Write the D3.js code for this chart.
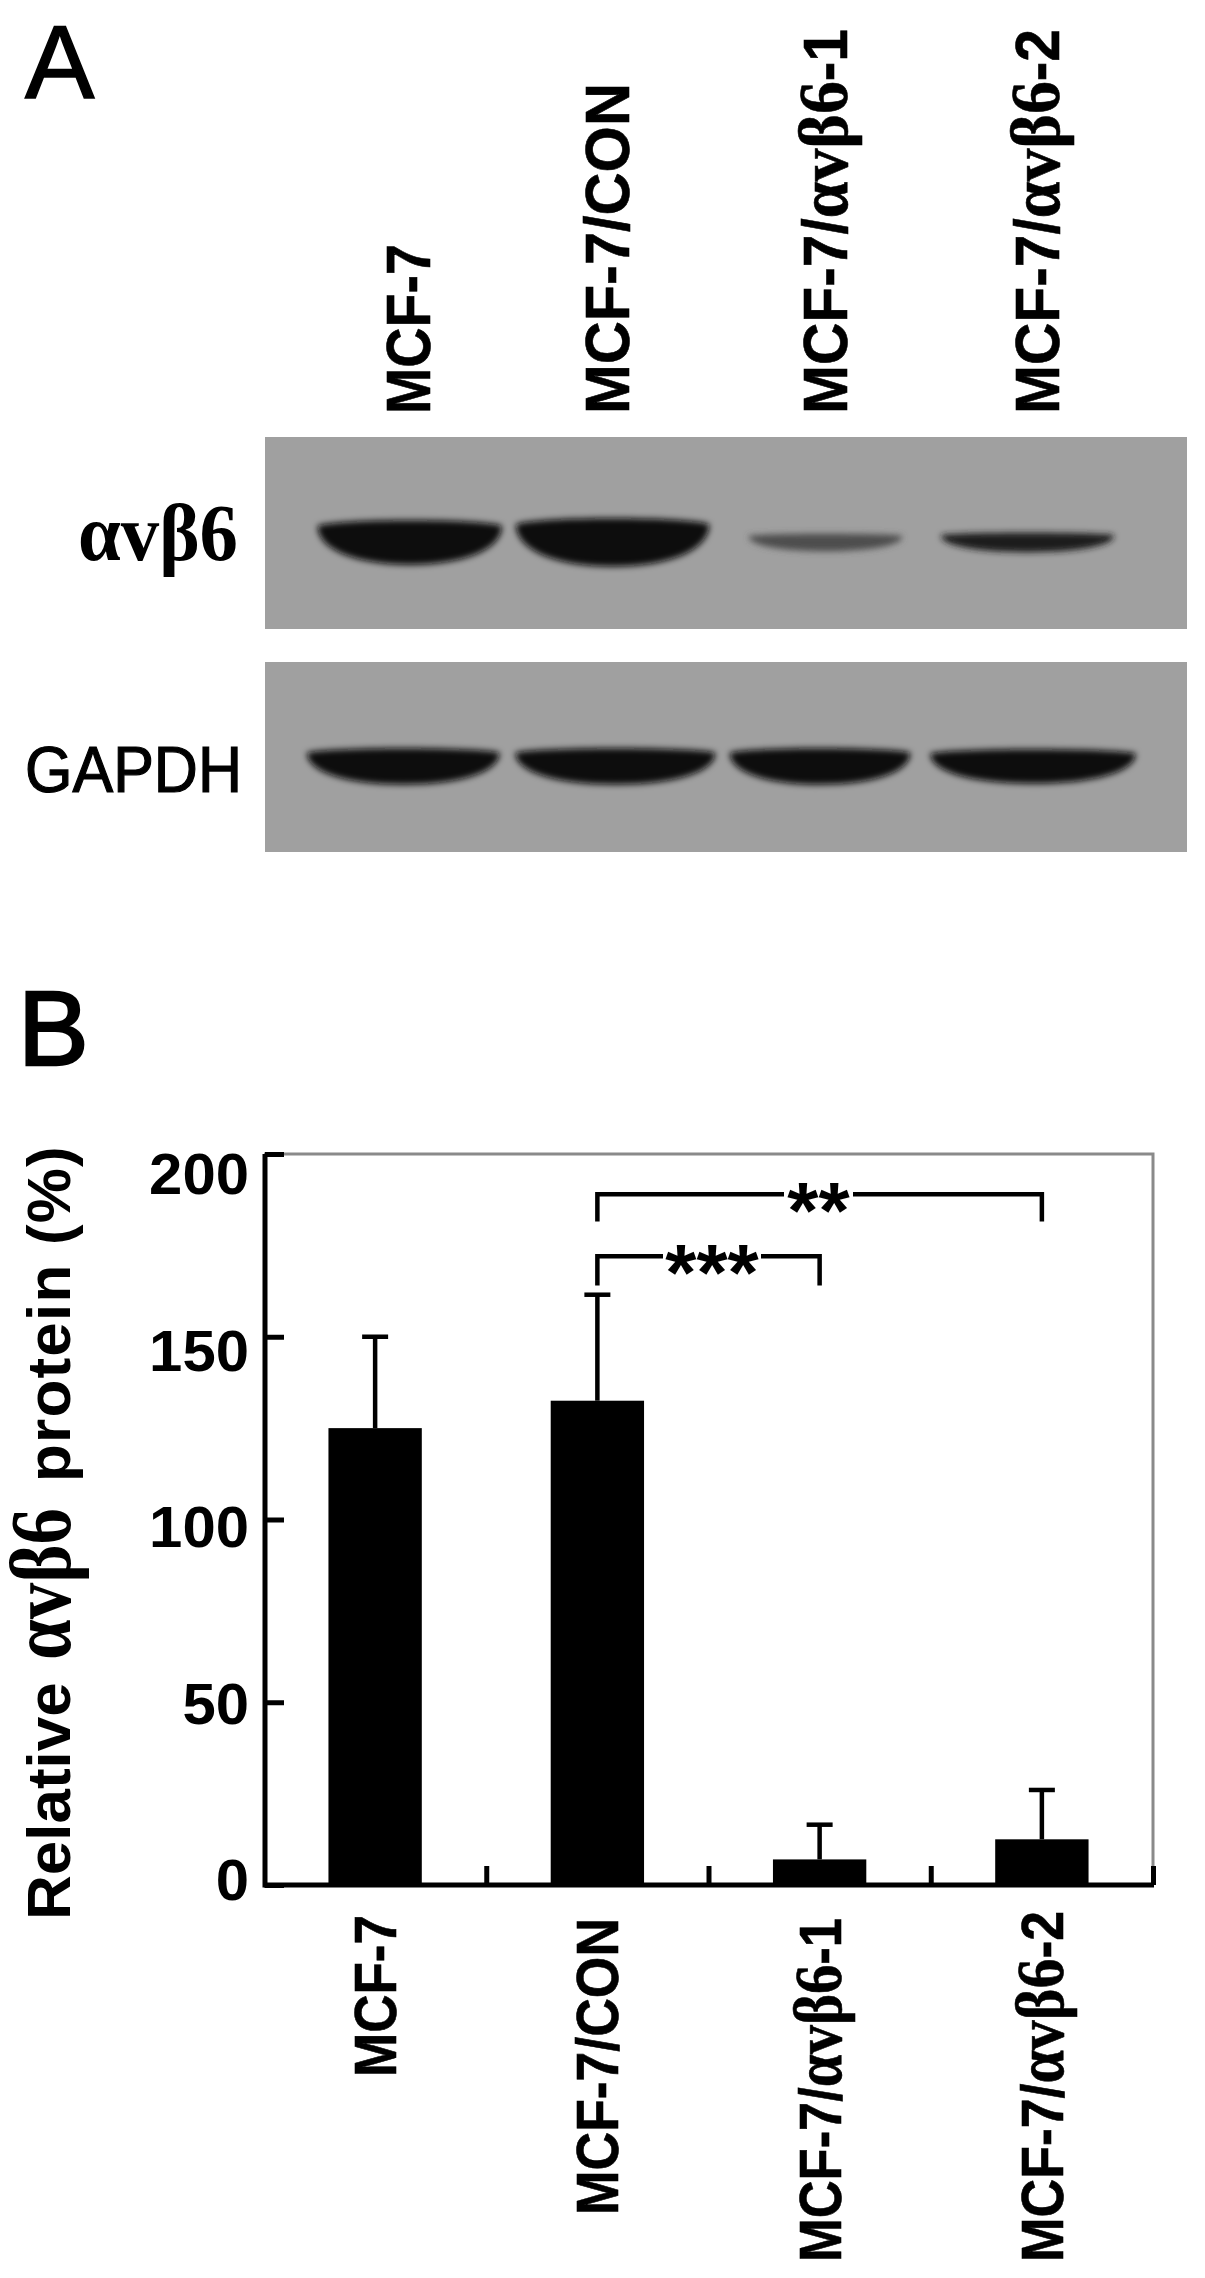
<!DOCTYPE html>
<html><head><meta charset="utf-8">
<script src="https://cdn.jsdelivr.net/npm/d3@7"></script>
<style>html,body{margin:0;padding:0;background:#fff}svg{display:block}</style></head>
<body><div id="c"></div>
<script>
// Bar chart data
const categories = ["MCF-7","MCF-7/CON","MCF-7/αvβ6-1","MCF-7/αvβ6-2"];
const means = [125, 132.5, 7, 12.5];
const errorTops = [150, 161.5, 16.5, 26];
const yTicks = [0,50,100,150,200];
const brackets = [
  {from:1,to:3,level:189,drop:181.5,label:"**"},
  {from:1,to:2,level:172,drop:164,label:"***"}
];
// Blot band data: percent across the plate width / height, and darkness
const bandLanes = ["l1","l2","l3","l4"];
const integrinCentre = [15.7, 37.7, 60.8, 82.7];
const integrinWidth = [20.0, 21.0, 16.7, 18.8];
const integrinThick = [23, 25, 9, 10];
const integrinDark = [1, 1, 0.55, 0.88];
const gapdhCentre = [15.0, 38.0, 60.2, 83.3];
const gapdhWidth = [20.9, 21.7, 19.6, 22.3];
const gapdhThick = [19, 19, 19, 18];
const gapdhDark = [1, 1, 1, 1];

const W=1205,H=2278,SANS="'Liberation Sans',Arial,sans-serif",SERIF="'Liberation Serif',serif";
const svg=d3.select("#c").append("svg").attr("width",W).attr("height",H).attr("viewBox",`0 0 ${W} ${H}`);
const defs=svg.append("defs");
defs.append("filter").attr("id","blur").attr("x","-20%").attr("y","-60%").attr("width","140%").attr("height","220%")
  .append("feGaussianBlur").attr("stdDeviation",3.2);

// text helper: label with greek part in serif, fitted to a length
function rich(g,str,opts){
  const t=g.append("text").attr("font-family",SANS).attr("font-weight",opts.weight||"bold")
    .attr("font-size",opts.size).attr("fill","#000")
    .attr("transform",`translate(${opts.x},${opts.y}) rotate(${opts.rot||0})`)
    .attr("text-anchor",opts.anchor||"start");
  if(opts.stroke) t.attr("stroke","#000").attr("stroke-width",opts.stroke);
  if(opts.spacing) t.attr("letter-spacing",opts.spacing);
  const m=str.match(/^(.*?)(αvβ6)(.*)$/);
  if(m){
    t.append("tspan").text(m[1]);
    t.append("tspan").attr("font-family",SERIF).attr("font-size",opts.size*1.12).text(m[2]);
    t.append("tspan").text(m[3]);
  } else t.text(str);
  if(opts.len){t.attr("textLength",opts.len).attr("lengthAdjust",opts.adjust||"spacingAndGlyphs");}
  return t;
}

// ---- Panel A ----
rich(svg,"A",{x:25,y:98,size:104,weight:"normal",stroke:1.5});
const topX=[407,606,824,1036], topLen=[170,331,385,385];
categories.forEach((c,i)=>rich(svg,c,{x:topX[i]+23,y:414,rot:-90,size:63,len:topLen[i],stroke:0.6}));

function plate(y0,y1,centres,widths,thicks,darks,fill){
  const g=svg.append("g");
  const px=d3.scaleLinear([0,100],[265,1187]);
  const py=d3.scaleLinear([0,100],[y0,y1]);
  g.append("rect").attr("x",px(0)).attr("y",y0).attr("width",px(100)-px(0)).attr("height",y1-y0).attr("fill",fill);
  const shade=d3.scaleLinear([0,1],[fill,"#0a0a0a"]);
  const cy=py(55);
  g.append("g").attr("filter","url(#blur)").selectAll("path").data(bandLanes).join("path")
    .attr("d",(d,i)=>{
      const p=d3.path();
      const l=px(centres[i]-widths[i]/2), r=px(centres[i]+widths[i]/2), w=r-l;
      const h=py(thicks[i])-py(0), t=cy-h/2, b=cy+h/2;
      p.moveTo(l,t+h*0.12);
      p.bezierCurveTo(l+w*0.1,t-h*0.05,r-w*0.1,t-h*0.05,r,t+h*0.12);
      p.bezierCurveTo(r,t+h*0.65,r-w*0.2,b,l+w/2,b);
      p.bezierCurveTo(l+w*0.2,b,l,t+h*0.65,l,t+h*0.12);
      p.closePath();
      return p.toString();
    })
    .attr("fill",(d,i)=>shade(darks[i]));
}
plate(437,629,integrinCentre,integrinWidth,integrinThick,integrinDark,"#a0a0a0");
plate(662,852,gapdhCentre,gapdhWidth,gapdhThick,gapdhDark,"#a0a0a0");

rich(svg,"αvβ6",{x:78,y:560,size:72,weight:"bold",len:160}).attr("font-family",SERIF);
rich(svg,"GAPDH",{x:25,y:792,size:64,weight:"normal",len:217,stroke:1.2});

// ---- Panel B ----
rich(svg,"B",{x:18,y:1065,size:106,weight:"normal",stroke:2.5});

const x=d3.scaleBand().domain(categories).range([264,1153]);
const xTick=d3.scaleLinear([0,4],[264,1153]);
const y=d3.scaleLinear([0,200],[1885,1154]);
const yLab=d3.scaleLinear([0,200],[1879,1173]);
const barW=x.bandwidth()*0.42;
const cx=d=>x(d)+x.bandwidth()/2;

// frame top/right
svg.append("path").attr("d",`M${xTick(0)},${y(200)}H${xTick(4)}V${y(0)}`).attr("fill","none").attr("stroke","#8a8a8a").attr("stroke-width",3);

svg.append("g").selectAll("rect").data(categories).join("rect")
  .attr("x",d=>cx(d)-barW/2).attr("width",barW)
  .attr("y",(d,i)=>y(means[i])).attr("height",(d,i)=>y(0)-y(means[i])).attr("fill","#000");

const err=svg.append("g").attr("stroke","#000").attr("stroke-width",4.5);
err.selectAll("line.v").data(categories).join("line").attr("class","v")
  .attr("x1",cx).attr("x2",cx).attr("y1",(d,i)=>y(means[i])).attr("y2",(d,i)=>y(errorTops[i]));
err.selectAll("line.c").data(categories).join("line").attr("class","c")
  .attr("x1",d=>cx(d)-13).attr("x2",d=>cx(d)+13).attr("y1",(d,i)=>y(errorTops[i])).attr("y2",(d,i)=>y(errorTops[i]));

const axL=svg.append("g").attr("transform",`translate(${xTick(0)+1},0)`)
  .call(d3.axisLeft(y).tickValues(yTicks).tickSize(-19).tickFormat(""));
const axB=svg.append("g").attr("transform",`translate(0,${y(0)})`)
  .call(d3.axisBottom(xTick).tickValues([1,2,3,4]).tickSize(-19).tickFormat(""));
[axL,axB].forEach(a=>{a.selectAll("path,line").attr("stroke","#000").attr("stroke-width",5);a.select("path").attr("d",null);});
axL.append("line").attr("y1",y(200)).attr("y2",y(0)+2.5).attr("stroke","#000").attr("stroke-width",5);
axB.append("line").attr("x1",xTick(0)).attr("x2",xTick(4)+1).attr("stroke","#000").attr("stroke-width",5);

// tick labels
yTicks.forEach(v=>{
  const s=String(v);
  rich(svg,s,{x:249,y:yLab(v)+21,size:58,anchor:"end",len:s.length*33.3});
});

// y title, in three pieces
rich(svg,"Relative",{x:70,y:1920,rot:-90,size:62});
rich(svg,"αvβ6",{x:70,y:1660,rot:-90,size:78,len:152}).attr("font-family",SERIF);
rich(svg,"protein (%)",{x:70,y:1482,rot:-90,size:62,spacing:1.2});

// bottom labels
const botLen=[162,297,344,351], botStart=[2077,2215,2262,2262];
categories.forEach((c,i)=>rich(svg,c,{x:cx(c)+21,y:botStart[i],rot:-90,size:60,len:botLen[i],stroke:0.6}));

// significance brackets
const br=svg.append("g");
const gap={"**":[784,853],"***":[663,761]};
brackets.forEach(b=>{
  const a=cx(categories[b.from]),c=cx(categories[b.to]),ly=y(b.level),dy=y(b.drop);
  const [g0,g1]=gap[b.label];
  br.append("path").attr("fill","none").attr("stroke","#000").attr("stroke-width",4.5)
    .attr("d",`M${a},${dy}V${ly}H${g0}M${g1},${ly}H${c}V${dy}`);
  br.append("text").attr("x",(g0+g1)/2).attr("y",ly+44).attr("text-anchor","middle")
    .attr("font-family",SANS).attr("font-weight","bold").attr("font-size",80).text(b.label);
});
</script></body></html>
